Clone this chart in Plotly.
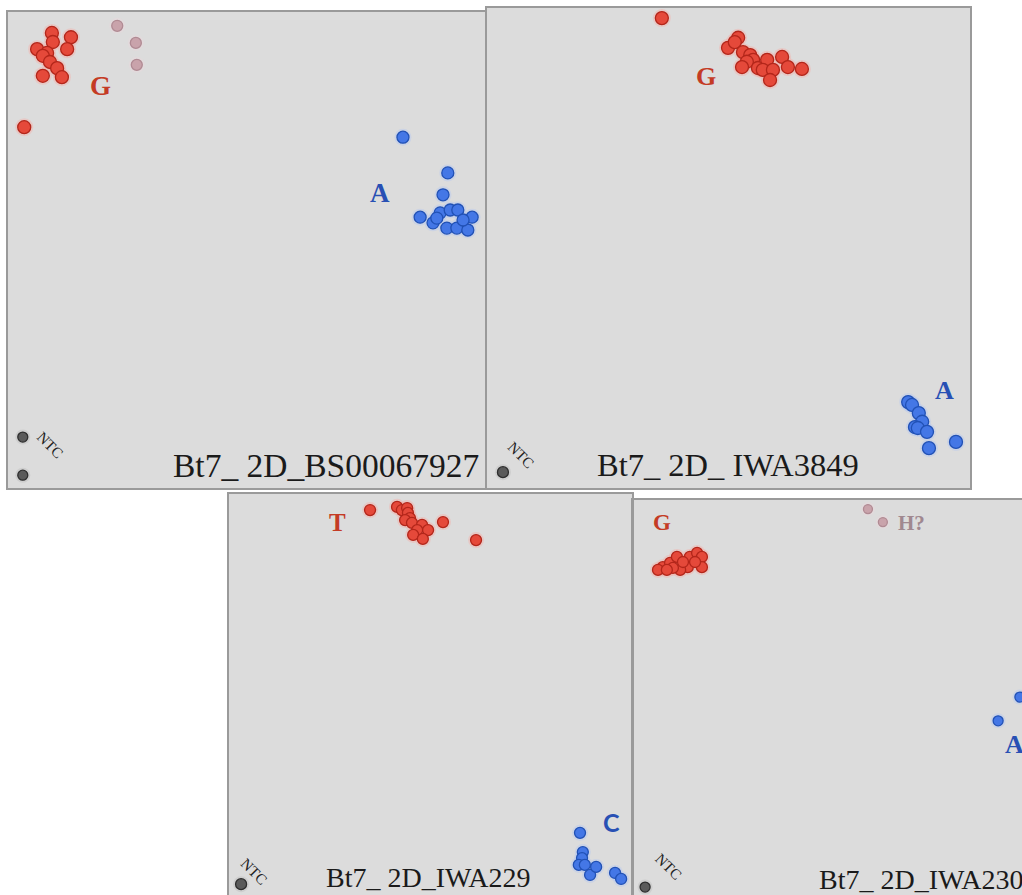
import plotly.graph_objects as go

# ---------------- data (normalised allele signal, 0-100 per panel) ----------------
# Panel 1: Bt7_ 2D_BS00067927
p1_G_x = [9.2, 13.2, 6.1, 9.4, 12.4, 8.2, 7.3, 8.8, 10.3, 7.3, 11.3, 3.4]
p1_G_y = [95.6, 94.7, 92.2, 93.7, 92.2, 91.4, 90.8, 89.5, 88.2, 86.6, 86.3, 75.8]
p1_H_x = [22.9, 26.8, 27.0]
p1_H_y = [97.1, 93.5, 88.9]
p1_A_x = [82.8, 92.2, 91.2, 86.4, 89.1, 90.6, 92.7, 94.3, 97.3, 92.0, 94.1, 96.4, 89.9, 95.4]
p1_A_y = [73.7, 66.2, 61.6, 56.9, 55.7, 57.8, 58.4, 58.4, 56.9, 54.6, 54.6, 54.2, 56.7, 56.3]
p1_N_x = [3.1, 3.1]
p1_N_y = [10.7, 2.7]

# Panel 2: Bt7_ 2D_ IWA3849
p2_G_x = [36.2, 52.0, 49.9, 51.3, 53.0, 54.5, 55.1, 53.8, 52.8, 56.1, 58.0, 57.1, 59.2, 61.1, 62.3, 65.2, 58.6]
p2_G_y = [97.9, 93.8, 91.7, 92.9, 90.8, 90.2, 89.2, 88.8, 87.7, 87.5, 89.2, 87.1, 87.1, 89.8, 87.7, 87.3, 85.0]
p2_A_x = [87.2, 88.0, 89.4, 90.1, 88.6, 89.2, 91.1, 91.5, 97.1]
p2_A_y = [17.9, 17.3, 15.6, 13.8, 12.7, 12.5, 11.7, 8.3, 9.6]
p2_N_x = [3.3]
p2_N_y = [3.3]

# Panel 3: Bt7_ 2D_IWA229
p3_T_x = [35.0, 41.7, 42.9, 44.2, 44.4, 44.9, 43.7, 45.4, 47.9, 46.7, 49.4, 45.7, 48.1, 53.1, 61.3]
p3_T_y = [96.0, 96.8, 96.0, 96.5, 95.3, 94.0, 93.5, 92.8, 92.3, 91.0, 91.0, 89.8, 88.8, 93.0, 88.5]
p3_C_x = [87.1, 87.8, 87.6, 86.8, 88.3, 89.6, 91.1, 95.8, 97.3]
p3_C_y = [15.5, 10.7, 9.2, 7.5, 7.5, 5.0, 7.0, 5.5, 4.0]
p3_N_x = [3.0]
p3_N_y = [2.7]

# Panel 4: Bt7_ 2D_IWA230
p4_G_x = [7.4, 9.2, 10.9, 14.1, 15.9, 17.1, 17.1, 13.6, 11.7, 6.2, 9.9, 8.4, 12.4, 15.4]
p4_G_y = [83.0, 84.1, 85.6, 85.6, 86.6, 85.6, 83.0, 83.0, 82.3, 82.3, 82.8, 82.3, 84.3, 84.3]
p4_H_x = [58.3, 62.0]
p4_H_y = [97.7, 94.4]
p4_A_x = [90.6, 96.0]
p4_A_y = [44.1, 50.1]
p4_N_x = [3.0]
p4_N_y = [2.0]

titles = ["Bt7_ 2D_BS00067927", "Bt7_ 2D_ IWA3849", "Bt7_ 2D_IWA229", "Bt7_ 2D_IWA230"]

# ---------------- styling ----------------
W, H = 1022, 895
RED, RED_L, RED_G = "#e5493a", "#b3261a", "#f3b0a8"
BLUE, BLUE_L, BLUE_G = "#4477e6", "#2151b5", "#b5c8f0"
PINK, PINK_L, PINK_G = "#c9a3ab", "#b08a93", "#e8d8dc"
GREY, GREY_L, GREY_G = "#5a5a5a", "#2e2e2e", "#bdbdbd"
LBL_RED, LBL_BLUE, LBL_PINK = "#c43b25", "#2850b4", "#a08890"
SERIF = "Liberation Serif, Times New Roman, serif"

# panel boxes in window pixels: left, right, top, bottom
boxes = [(8, 485, 12, 488), (487, 970, 8, 488), (229, 632, 494, 895), (633, 1022, 500, 895)]
xranges = [[0, 100], [0, 100], [0, 100], [0, 389 / 403 * 100]]

fig = go.Figure()

def add_pts(i, xs, ys, color, line, glow, size):
    ax = "" if i == 1 else str(i)
    fig.add_trace(go.Scatter(
        x=xs, y=ys, mode="markers", xaxis="x" + ax, yaxis="y" + ax,
        marker=dict(color=glow, size=size + 5, opacity=0.45, line=dict(width=0)),
        showlegend=False, hoverinfo="skip"))
    fig.add_trace(go.Scatter(
        x=xs, y=ys, mode="markers", xaxis="x" + ax, yaxis="y" + ax,
        marker=dict(color=color, size=size, line=dict(color=line, width=1.3)),
        showlegend=False, hoverinfo="skip"))

add_pts(1, p1_H_x, p1_H_y, PINK, PINK_L, PINK_G, 11)
add_pts(1, p1_G_x, p1_G_y, RED, RED_L, RED_G, 13)
add_pts(1, p1_A_x, p1_A_y, BLUE, BLUE_L, BLUE_G, 12)
add_pts(1, p1_N_x, p1_N_y, GREY, GREY_L, GREY_G, 10)

add_pts(2, p2_G_x, p2_G_y, RED, RED_L, RED_G, 13)
add_pts(2, p2_A_x, p2_A_y, BLUE, BLUE_L, BLUE_G, 13)
add_pts(2, p2_N_x, p2_N_y, GREY, GREY_L, GREY_G, 11)

add_pts(3, p3_T_x, p3_T_y, RED, RED_L, RED_G, 11)
add_pts(3, p3_C_x, p3_C_y, BLUE, BLUE_L, BLUE_G, 11)
add_pts(3, p3_N_x, p3_N_y, GREY, GREY_L, GREY_G, 11)

add_pts(4, p4_H_x, p4_H_y, PINK, PINK_L, PINK_G, 9)
add_pts(4, p4_G_x, p4_G_y, RED, RED_L, RED_G, 11)
add_pts(4, p4_A_x, p4_A_y, BLUE, BLUE_L, BLUE_G, 10)
add_pts(4, p4_N_x, p4_N_y, GREY, GREY_L, GREY_G, 10)

layout = dict(width=W, height=H, margin=dict(l=0, r=0, t=0, b=0),
              paper_bgcolor="white", plot_bgcolor="#dcdcdc", showlegend=False)

for i, (l, r, t, b) in enumerate(boxes, start=1):
    ax = "" if i == 1 else str(i)
    common = dict(showgrid=False, zeroline=False, showticklabels=False, ticks="",
                  showline=True, linecolor="#9a9a9a", linewidth=1.5, fixedrange=True)
    # the last panel runs off the right/bottom edge of the picture: only left and top borders
    mirror = i != 4
    layout["xaxis" + ax] = dict(domain=[l / W, min(1, r / W)], range=xranges[i - 1],
                                anchor="y" + ax, mirror=mirror,
                                side="top" if i == 4 else "bottom", **common)
    layout["yaxis" + ax] = dict(domain=[max(0, 1 - b / H), 1 - t / H], range=[0, 100],
                                anchor="x" + ax, mirror=mirror, **common)

fig.update_layout(**layout)

def ann(i, x, y, text, color, size, family=SERIF, bold=True, angle=0, xanchor="center"):
    ax = "" if i == 1 else str(i)
    fig.add_annotation(x=x, y=y, xref="x" + ax, yref="y" + ax, text=("<b>%s</b>" % text) if bold else text,
                       showarrow=False, textangle=angle, xanchor=xanchor, yanchor="middle",
                       font=dict(color=color, size=size, family=family))

# cluster labels
ann(1, 19.3, 84.5, "G", LBL_RED, 27)
ann(1, 78.0, 62.0, "A", LBL_BLUE, 27)
ann(2, 45.3, 85.8, "G", LBL_RED, 26)
ann(2, 94.8, 20.4, "A", LBL_BLUE, 26)
ann(3, 27.0, 93.0, "T", LBL_RED, 25)
ann(3, 94.8, 18.2, "C", LBL_BLUE, 25, family="Lato, Open Sans, sans-serif")
ann(4, 7.2, 94.4, "G", LBL_RED, 23)
ann(4, 69.2, 94.2, "H?", LBL_PINK, 21)
ann(4, 94.6, 38.0, "A", LBL_BLUE, 26)

# NTC labels
ann(1, 8.8, 9.0, "NTC", "#222222", 15, bold=False, angle=45)
ann(2, 7.0, 6.9, "NTC", "#222222", 15, bold=False, angle=45)
ann(3, 6.3, 5.8, "NTC", "#222222", 15, bold=False, angle=45)
ann(4, 8.8, 7.0, "NTC", "#222222", 15, bold=False, angle=45)

# marker titles
ann(1, 99.2, 4.8, titles[0], "#1a1a1a", 33.5, bold=False, xanchor="right")
ann(2, 49.9, 4.8, titles[1], "#1a1a1a", 32.5, bold=False)
ann(3, 49.4, 4.3, titles[2], "#1a1a1a", 28, bold=False)
ann(4, 71.7, 3.8, titles[3], "#1a1a1a", 28, bold=False)

# page without the default body margin so the figure fills the 1022x895 window exactly
fig.write_html("out.html", config={"displayModeBar": False},
               post_script="document.body.style.margin='0';document.body.style.overflow='hidden';")
